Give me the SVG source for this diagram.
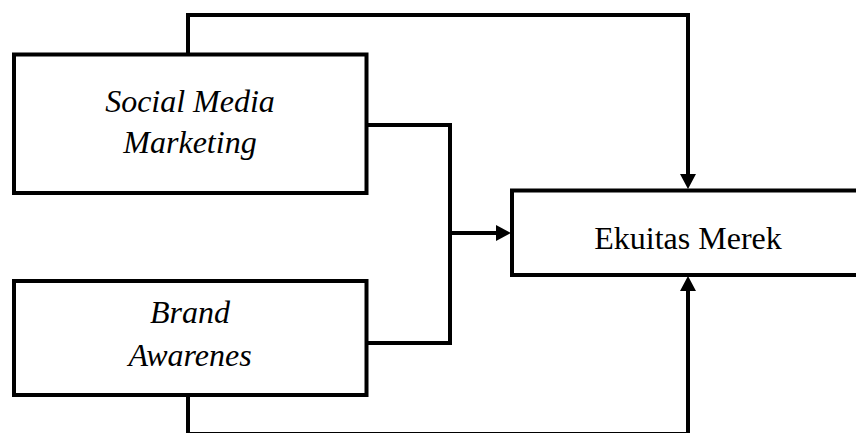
<svg xmlns="http://www.w3.org/2000/svg" width="856" height="433" viewBox="0 0 856 433">
<style>
.box{fill:#fff;stroke:#000;stroke-width:4}
.con{fill:none;stroke:#000;stroke-width:4;stroke-linejoin:miter}
.it{font-style:italic;font-size:32px;fill:#000;text-anchor:middle}
.rg{font-size:32px;fill:#000;text-anchor:middle}
</style>
<defs>
<marker id="arr" markerUnits="userSpaceOnUse" markerWidth="16" markerHeight="16" refX="2" refY="8" orient="auto" viewBox="0 0 16 16">
<path d="M0,0 L15,8 L0,16 Z" fill="#000"/>
</marker>
</defs>
<rect width="856" height="433" fill="#fff"/>
<g id="connectors">
<path class="con" d="M188,54 V15 H688 V176" marker-end="url(#arr)"/>
<path class="con" d="M366,125 H450 V343 H366"/>
<path class="con" d="M450,233 H498" marker-end="url(#arr)"/>
<path class="con" d="M188,395 V434 H688 V289" marker-end="url(#arr)"/>
</g>
<g id="smm" font-family="Liberation Serif, Times New Roman, serif">
<rect class="box" x="14" y="54.5" width="352.5" height="138.5"/>
<text class="it" x="190" y="112">Social Media</text>
<text class="it" x="190" y="153">Marketing</text>
</g>
<g id="ba" font-family="Liberation Serif, Times New Roman, serif">
<rect class="box" x="14" y="281" width="352.5" height="114"/>
<text class="it" x="190" y="323">Brand</text>
<text class="it" x="190" y="366">Awarenes</text>
</g>
<g id="em" font-family="Liberation Serif, Times New Roman, serif">
<rect class="box" x="512" y="190.5" width="360" height="84.5"/>
<text class="rg" x="688" y="249">Ekuitas Merek</text>
</g>
</svg>
